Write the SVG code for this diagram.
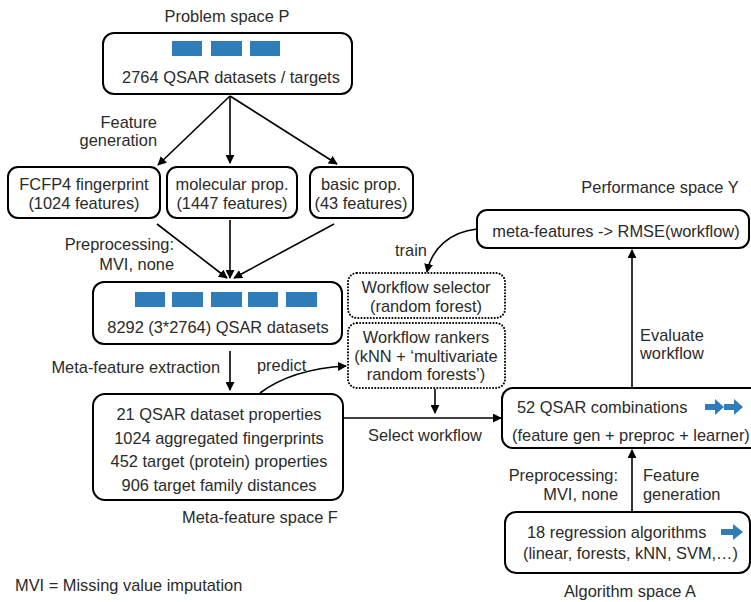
<svg xmlns="http://www.w3.org/2000/svg" width="751" height="602" viewBox="0 0 751 602">
<defs>
<marker id="ah2" viewBox="0 0 10 10" refX="9" refY="5" markerWidth="9" markerHeight="9" orient="auto" markerUnits="userSpaceOnUse">
<path d="M0,0 L10,5 L0,10 z" fill="#000"/>
</marker>
</defs>
<style>
text{font-family:"Liberation Sans",Arial,sans-serif;font-size:16.4px;fill:#2a2a2a}
.m{text-anchor:middle}
.r{text-anchor:end}
.box{fill:#fff;stroke:#000;stroke-width:2}
.dot{fill:#fff;stroke:#000;stroke-width:2;stroke-dasharray:0.1 3;stroke-linecap:round}
.ln{fill:none;stroke:#000;stroke-width:1.6;marker-end:url(#ah2)}
.blk{fill:#2f7db8}
</style>
<rect width="751" height="602" fill="#fff"/>

<g id="problem">
<text class="m" x="227" y="22">Problem space P</text>
<rect class="box" x="103" y="33" width="249" height="61" rx="11"/>
<rect class="blk" x="172" y="41" width="30" height="15"/>
<rect class="blk" x="211" y="41" width="31" height="15"/>
<rect class="blk" x="250" y="41" width="30" height="15"/>
<text class="m" x="231" y="83">2764 QSAR datasets / targets</text>
</g>

<g id="fcfp">
<rect class="box" x="8" y="167" width="152" height="51" rx="10"/>
<text class="m" x="84" y="190">FCFP4 fingerprint</text>
<text class="m" x="84" y="209">(1024 features)</text>
</g>
<g id="molecular">
<rect class="box" x="167" y="167" width="130" height="51" rx="10"/>
<text class="m" x="232" y="190">molecular prop.</text>
<text class="m" x="232" y="209">(1447 features)</text>
</g>
<g id="basic">
<rect class="box" x="310" y="167" width="103" height="51" rx="10"/>
<text class="m" x="361" y="190">basic prop.</text>
<text class="m" x="361" y="209">(43 features)</text>
</g>

<g id="datasets">
<rect class="box" x="93" y="282" width="249" height="62" rx="11"/>
<rect class="blk" x="135" y="292" width="30" height="15"/>
<rect class="blk" x="172" y="292" width="31" height="15"/>
<rect class="blk" x="211" y="292" width="31" height="15"/>
<rect class="blk" x="248" y="292" width="30" height="15"/>
<rect class="blk" x="286" y="292" width="31" height="15"/>
<text class="m" x="218" y="333">8292 (3*2764) QSAR datasets</text>
</g>

<g id="metafeatures">
<rect class="box" x="93" y="394" width="250" height="106" rx="12"/>
<text class="m" x="219" y="420">21 QSAR dataset properties</text>
<text class="m" x="219" y="444">1024 aggregated fingerprints</text>
<text class="m" x="219" y="467">452 target (protein) properties</text>
<text class="m" x="219" y="491">906 target family distances</text>
<text class="m" x="260" y="523">Meta-feature space F</text>
</g>

<g id="selector">
<rect class="dot" x="348" y="273" width="157" height="45" rx="9"/>
<text class="m" x="426" y="293">Workflow selector</text>
<text class="m" x="426" y="312">(random forest)</text>
</g>
<g id="rankers">
<rect class="dot" x="348" y="323" width="157" height="65" rx="9"/>
<text class="m" x="426" y="343">Workflow rankers</text>
<text class="m" x="426" y="362">(kNN + ‘multivariate</text>
<text class="m" x="426" y="380">random forests’)</text>
</g>

<g id="performance">
<text class="m" x="660" y="193">Performance space Y</text>
<rect class="box" x="477" y="210" width="272" height="38" rx="10"/>
<text class="m" x="616" y="237">meta-features -&gt; RMSE(workflow)</text>
</g>

<g id="combinations">
<rect class="box" x="502" y="388" width="260" height="60" rx="11"/>
<text x="517" y="413">52 QSAR combinations</text>
<text x="512" y="441">(feature gen + preproc + learner)</text>
<path class="blk" d="M705,404 h10 v-5 l9,8 l-9,8 v-5 h-10 z"/>
<path class="blk" d="M724,404 h10 v-5 l9,8 l-9,8 v-5 h-10 z"/>
</g>

<g id="algorithms">
<rect class="box" x="505" y="512" width="245" height="61" rx="11"/>
<text x="527" y="538">18 regression algorithms</text>
<text x="523" y="559">(linear, forests, kNN, SVM,…)</text>
<path class="blk" d="M721,529 h12 v-5 l10,8 l-10,8 v-5 h-12 z"/>
<text class="m" x="630" y="597">Algorithm space A</text>
</g>

<g id="connectors">
<line class="ln" x1="230" y1="96" x2="158" y2="165"/>
<line class="ln" x1="230" y1="96" x2="230" y2="163"/>
<line class="ln" x1="230" y1="96" x2="337" y2="164"/>
<line class="ln" x1="157" y1="224" x2="227" y2="278"/>
<line class="ln" x1="230" y1="220" x2="230" y2="278"/>
<line class="ln" x1="334" y1="224" x2="234" y2="278"/>
<line class="ln" x1="230" y1="351" x2="230" y2="390"/>
<path class="ln" d="M260,393 C280,378 310,368 346,366"/>
<path class="ln" d="M477,229 C450,232 432,248 427,272"/>
<line class="ln" x1="435" y1="389" x2="435" y2="413"/>
<line class="ln" x1="343" y1="418" x2="501" y2="418"/>
<line class="ln" x1="632" y1="387" x2="632" y2="250"/>
<line class="ln" x1="632" y1="512" x2="632" y2="450"/>
</g>

<g id="labels">
<text class="r" x="157" y="128">Feature</text>
<text class="r" x="157" y="146">generation</text>
<text class="r" x="174" y="250">Preprocessing:</text>
<text class="r" x="174" y="270">MVI, none</text>
<text class="r" x="220" y="373">Meta-feature extraction</text>
<text x="257" y="371">predict</text>
<text x="395" y="256">train</text>
<text x="368" y="441">Select workflow</text>
<text x="640" y="341">Evaluate</text>
<text x="640" y="359">workflow</text>
<text class="r" x="618" y="481">Preprocessing:</text>
<text class="r" x="618" y="500">MVI, none</text>
<text x="643" y="481">Feature</text>
<text x="643" y="500">generation</text>
<text x="15" y="591">MVI = Missing value imputation</text>
</g>
</svg>
